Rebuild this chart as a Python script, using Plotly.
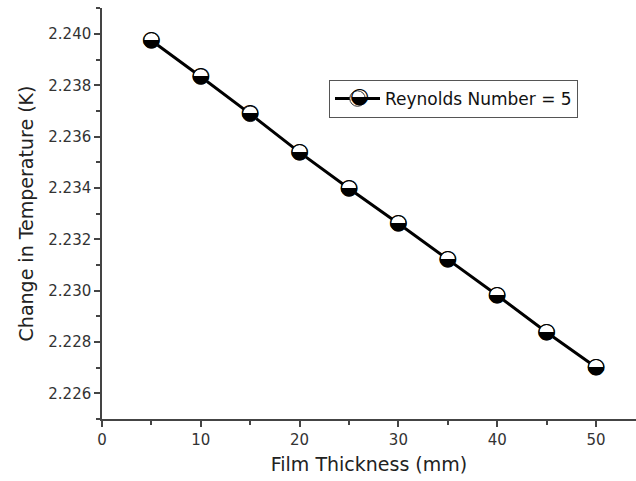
import plotly.graph_objects as go

# Data
film_thickness_mm = [5, 10, 15, 20, 25, 30, 35, 40, 45, 50]
delta_temp_K = [2.23975, 2.23834, 2.23689, 2.23539, 2.23398,
                2.23262, 2.23122, 2.22982, 2.22838, 2.22702]
series_name = "Reynolds Number = 5"
x_title = "Film Thickness (mm)"
y_title = "Change in Temperature (K)"

FONT = "DejaVu Sans"
HALF_CIRCLE = "\u25D2"   # circle with lower half black
GLYPH_SIZE = 22

# plot-area geometry (pixels)
W, H = 636, 481
ML, MR, MT, MB = 102, 0, 8, 62
PW, PH = W - ML - MR, H - MT - MB

fig = go.Figure()

# connecting line + white disc under every glyph (outlined, used by legend)
fig.add_trace(go.Scatter(
    x=film_thickness_mm, y=delta_temp_K,
    mode="lines+markers",
    name=series_name,
    line=dict(color="black", width=3),
    marker=dict(symbol="circle", size=15.5, color="white",
                line=dict(color="#333", width=1)),
))

# half-filled glyph on each data point
fig.add_trace(go.Scatter(
    x=film_thickness_mm, y=delta_temp_K,
    mode="text",
    text=[HALF_CIRCLE] * len(film_thickness_mm),
    textposition="middle center",
    textfont=dict(family=FONT, size=GLYPH_SIZE, color="black"),
    showlegend=False,
    hoverinfo="skip",
))

axis_common = dict(
    showgrid=False, zeroline=False,
    showline=True, linecolor="#444", linewidth=1.5,
    ticks="outside", ticklen=6, tickwidth=1.5, tickcolor="#444",
    tickfont=dict(family=FONT, size=15, color="#333"),
    title_font=dict(family=FONT, size=19, color="#222"),
)

fig.update_xaxes(
    range=[0, 54.05], tick0=0, dtick=10,
    minor=dict(ticks="outside", ticklen=4, tickwidth=1.5,
               tickcolor="#444", dtick=5, tick0=0),
    title_text=x_title, title_standoff=10,
    **axis_common,
)
fig.update_yaxes(
    range=[2.225, 2.241016], tick0=2.226, dtick=0.002, tickformat=".3f",
    minor=dict(ticks="outside", ticklen=4, tickwidth=1.5,
               tickcolor="#444", dtick=0.001, tick0=2.225),
    title_text=y_title, title_standoff=10,
    **axis_common,
)

# legend placement (pixels) and the half-filled glyph on its symbol
LEG_LEFT, LEG_TOP = 329, 80
legend_symbol_px = (LEG_LEFT + 30, LEG_TOP + 18)

fig.update_layout(
    width=W, height=H,
    margin=dict(l=ML, r=MR, t=MT, b=MB, autoexpand=False),
    paper_bgcolor="white", plot_bgcolor="white",
    showlegend=True,
    legend=dict(
        x=(LEG_LEFT - ML) / PW, y=1 - (LEG_TOP - MT) / PH,
        xanchor="left", yanchor="top",
        bgcolor="white", bordercolor="#555", borderwidth=1,
        font=dict(family=FONT, size=17, color="#111"),
        itemwidth=45,
    ),
    annotations=[dict(
        text=HALF_CIRCLE, showarrow=False,
        xref="paper", yref="paper",
        x=(legend_symbol_px[0] - ML) / PW,
        y=1 - (legend_symbol_px[1] - MT) / PH,
        xanchor="center", yanchor="middle", yshift=2,
        font=dict(family=FONT, size=GLYPH_SIZE, color="black"),
    )],
)

fig.write_html("out.html")
